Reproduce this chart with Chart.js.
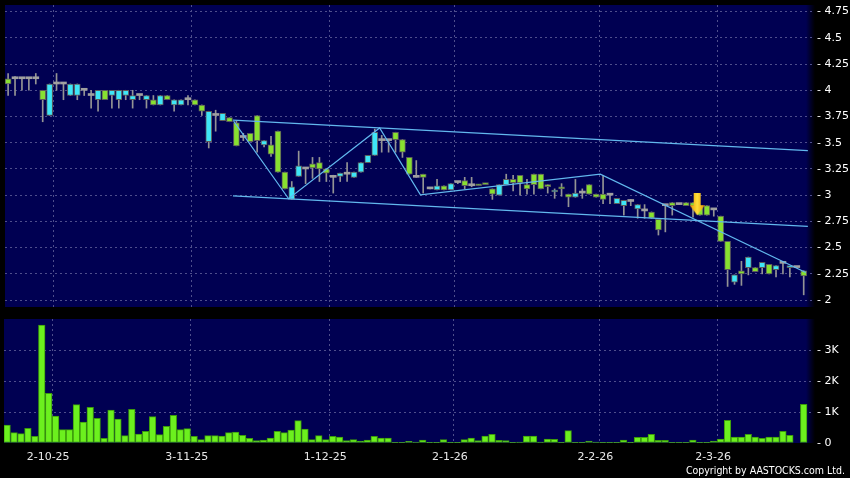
<!DOCTYPE html>
<html>
<head>
<meta charset="utf-8">
<script src="https://cdn.jsdelivr.net/npm/chart.js@4/dist/chart.umd.min.js"></script>
<style>
    body { margin: 0; background: #000; width: 850px; height: 478px; overflow: hidden; position: relative; font-family: "DejaVu Sans", sans-serif; }
    #priceBox { position: absolute; left: 0; top: 0; width: 850px; height: 312px; }
    #volBox { position: absolute; left: 0; top: 312px; width: 850px; height: 166px; }
    #copy { position: absolute; right: 5px; top: 464px; color: #fff; font-size: 10.5px; font-family: "DejaVu Sans Condensed", "DejaVu Sans", sans-serif; }
</style>
</head>
<body>
<div id="priceBox"><canvas id="priceChart" width="850" height="312"></canvas></div>
<div id="volBox"><canvas id="volChart" width="850" height="166"></canvas></div>
<div id="copy">Copyright by AASTOCKS.com Ltd.</div>
<script>
// daily candles (index 0 = first session shown)
const open = [
    4.11, 4.11, 4.11, 4.11, 4.11, 4.00, 3.76, 4.06, 4.06, 3.95,
    3.95, 4.00, 3.95, 3.91, 4.00, 3.95, 3.91, 3.95, 3.91, 3.95,
    3.91, 3.91, 3.86, 3.95, 3.86, 3.86, 3.91, 3.91, 3.86, 3.51,
    3.76, 3.71, 3.74, 3.69, 3.55, 3.59, 3.76, 3.48, 3.48, 3.61,
    3.22, 2.96, 3.18, 3.25, 3.30, 3.31, 3.25, 3.17, 3.18, 3.20,
    3.17, 3.22, 3.31, 3.38, 3.52, 3.52, 3.60, 3.53, 3.36, 3.17,
    3.20, 3.06, 3.05, 3.09, 3.05, 3.12, 3.14, 3.09, 3.10, 3.11,
    3.06, 3.00, 3.10, 3.15, 3.19, 3.10, 3.20, 3.20, 3.10, 3.03,
    3.08, 3.01, 2.98, 3.02, 3.10, 3.01, 3.01, 3.00, 2.92, 2.90,
    2.94, 2.87, 2.85, 2.84, 2.77, 2.90, 2.93, 2.91, 2.93, 2.93,
    2.90, 2.90, 2.86, 2.80, 2.56, 2.17, 2.28, 2.31, 2.31, 2.31,
    2.34, 2.29, 2.35, 2.31, 2.31, 2.28
];
const high = [
    4.16, 4.13, 4.12, 4.12, 4.16, 4.00, 4.06, 4.16, 4.06, 4.06,
    4.06, 4.00, 4.00, 4.00, 4.00, 4.00, 4.00, 4.00, 4.00, 3.95,
    3.95, 3.95, 3.95, 3.95, 3.91, 3.91, 3.95, 3.91, 3.86, 3.80,
    3.81, 3.78, 3.74, 3.71, 3.59, 3.59, 3.76, 3.52, 3.56, 3.61,
    3.22, 3.13, 3.42, 3.25, 3.36, 3.36, 3.25, 3.19, 3.21, 3.31,
    3.22, 3.31, 3.38, 3.63, 3.57, 3.52, 3.60, 3.53, 3.36, 3.33,
    3.20, 3.06, 3.15, 3.09, 3.11, 3.13, 3.17, 3.17, 3.10, 3.11,
    3.06, 3.10, 3.20, 3.19, 3.19, 3.15, 3.20, 3.20, 3.10, 3.06,
    3.11, 3.01, 3.15, 3.06, 3.10, 3.01, 3.19, 3.00, 2.97, 2.95,
    2.96, 2.91, 2.91, 2.84, 2.77, 2.90, 2.93, 2.91, 2.93, 2.93,
    2.90, 2.90, 2.86, 2.80, 2.56, 2.24, 2.37, 2.41, 2.31, 2.36,
    2.34, 2.33, 2.37, 2.32, 2.31, 2.28
];
const low = [
    3.95, 3.95, 4.00, 4.00, 4.06, 3.70, 3.76, 4.00, 3.91, 3.95,
    3.91, 3.95, 3.83, 3.80, 3.91, 3.83, 3.83, 3.91, 3.83, 3.91,
    3.83, 3.86, 3.86, 3.91, 3.80, 3.86, 3.86, 3.86, 3.76, 3.45,
    3.61, 3.71, 3.70, 3.47, 3.52, 3.51, 3.41, 3.46, 3.37, 3.22,
    3.06, 2.96, 3.18, 3.11, 3.16, 3.13, 3.13, 3.02, 3.13, 3.13,
    3.17, 3.22, 3.31, 3.38, 3.41, 3.41, 3.41, 3.36, 3.20, 3.17,
    3.02, 3.06, 3.05, 3.05, 3.05, 3.11, 3.06, 3.08, 3.09, 3.10,
    2.96, 3.00, 3.10, 3.04, 3.00, 3.01, 3.01, 3.06, 3.02, 2.97,
    2.99, 2.89, 2.98, 2.97, 3.01, 2.98, 2.92, 2.92, 2.92, 2.81,
    2.90, 2.78, 2.78, 2.78, 2.62, 2.65, 2.81, 2.91, 2.90, 2.79,
    2.81, 2.81, 2.80, 2.56, 2.13, 2.15, 2.14, 2.24, 2.27, 2.25,
    2.25, 2.22, 2.25, 2.22, 2.31, 2.05
];
const close = [
    4.06, 4.11, 4.11, 4.11, 4.11, 3.91, 4.06, 4.06, 4.06, 4.06,
    4.06, 4.00, 3.95, 4.00, 3.91, 4.00, 4.00, 4.00, 3.95, 3.95,
    3.95, 3.86, 3.95, 3.91, 3.91, 3.91, 3.91, 3.86, 3.80, 3.80,
    3.76, 3.78, 3.70, 3.47, 3.55, 3.51, 3.52, 3.52, 3.39, 3.22,
    3.06, 3.08, 3.28, 3.25, 3.26, 3.25, 3.21, 3.17, 3.21, 3.20,
    3.22, 3.31, 3.38, 3.60, 3.52, 3.52, 3.53, 3.41, 3.20, 3.17,
    3.17, 3.06, 3.09, 3.05, 3.11, 3.12, 3.09, 3.09, 3.09, 3.10,
    3.01, 3.10, 3.15, 3.12, 3.12, 3.06, 3.10, 3.06, 3.08, 3.04,
    3.06, 2.98, 3.02, 3.02, 3.01, 2.98, 2.96, 3.00, 2.97, 2.95,
    2.94, 2.91, 2.85, 2.78, 2.67, 2.90, 2.90, 2.91, 2.90, 2.90,
    2.81, 2.81, 2.86, 2.56, 2.29, 2.24, 2.25, 2.41, 2.27, 2.36,
    2.25, 2.33, 2.35, 2.32, 2.31, 2.23
];
const volume = [
    580, 333, 301, 473, 215, 3806, 1602, 871, 430, 430,
    1237, 677, 1150, 796, 150, 1065, 774, 237, 1086, 290,
    376, 849, 269, 538, 892, 430, 462, 215, 108, 237,
    237, 226, 333, 355, 247, 150, 75, 97, 161, 376,
    333, 419, 720, 452, 108, 237, 108, 215, 194, 75,
    108, 65, 97, 215, 161, 161, 10, 20, 54, 32,
    97, 20, 10, 108, 5, 5, 108, 161, 75, 226,
    280, 86, 75, 20, 32, 226, 226, 32, 129, 118,
    20, 398, 20, 20, 65, 32, 20, 20, 20, 97,
    20, 183, 183, 280, 86, 86, 20, 5, 5, 97,
    20, 5, 65, 129, 731, 194, 194, 280, 194, 150,
    194, 194, 376, 247, 0, 1247
];

// month boundaries on the session axis and their labels
const dateTickIdx = [6.5, 26.5, 46.5, 64.5, 85.5, 102.5];
const dateTickLabels = ['2-10-25', '3-11-25', '1-12-25', '2-1-26', '2-2-26', '2-3-26'];
const priceTicks = [2, 2.25, 2.5, 2.75, 3, 3.25, 3.5, 3.75, 4, 4.25, 4.5, 4.75];
const volumeTicks = [0, 1000, 2000, 3000];

// drawn trend lines as [session index, price]
const channelUpper = [[32.5, 3.716], [115.6, 3.425]];
const channelLower = [[32.5, 2.994], [115.6, 2.703]];
const zigzag = [[32.6, 3.706], [40.55, 2.966], [53.7, 3.641], [59.6, 3.003], [85.6, 3.20], [115.3, 2.263]];
const signalArrow = [99.6, 2.914];

const UP = '#3ee6f7';
const DOWN = '#88e030';
const DOJI = '#a0a0a0';
const WICK = '#949494';
const GRID = '#4e4e8c';
const LINE = '#62b8ee';
const VOL = '#6cf01e';
const PLOT_BG = '#000052';
const X_MIN = -0.45, X_MAX = 116.2;

const plotBg = {
    id: 'plotBg',
    beforeDraw(chart) {
        const {ctx, chartArea: a} = chart;
        ctx.save();
        ctx.fillStyle = PLOT_BG;
        ctx.fillRect(a.left, a.top, a.right - a.left, a.bottom - a.top);
        // the panel fades out towards the axis on the right
        const fade = ctx.createLinearGradient(a.right - 6, 0, a.right + 3, 0);
        fade.addColorStop(0, PLOT_BG);
        fade.addColorStop(1, '#000');
        ctx.fillStyle = fade;
        ctx.fillRect(a.right - 6, a.top, 9, a.bottom - a.top);
        ctx.restore();
    }
};

function makeArrow() {
    const c = document.createElement('canvas');
    c.width = 15;
    c.height = 22;
    const g = c.getContext('2d');
    const grad = g.createLinearGradient(0, 0, 15, 0);
    grad.addColorStop(0, '#e89400');
    grad.addColorStop(0.5, '#ffe03a');
    grad.addColorStop(1, '#e89400');
    g.fillStyle = grad;
    g.beginPath();
    g.moveTo(4, 0);
    g.lineTo(11, 0);
    g.lineTo(11, 12);
    g.lineTo(15, 12);
    g.lineTo(7.5, 22);
    g.lineTo(0, 12);
    g.lineTo(4, 12);
    g.closePath();
    g.fill();
    return c;
}

const idx = open.map((_, i) => i);
const bodyColor = i => close[i] > open[i] ? UP : (close[i] < open[i] ? DOWN : DOJI);
const toXY = pts => pts.map(p => ({x: p[0], y: p[1]}));

const tickFont = {family: 'DejaVu Sans', size: 11};

// keep the plot area edge-to-edge, no extra room for the first/last label
function noLabelPadding(s) {
    s.paddingTop = 0;
    s.paddingBottom = 0;
    s.paddingLeft = 0;
    s.paddingRight = 0;
}

function xScale(showLabels) {
    return {
        type: 'linear',
        min: X_MIN,
        max: X_MAX,
        offset: false,
        afterBuildTicks: s => { s.ticks = dateTickIdx.map(v => ({value: v})); },
        afterFit: s => {
            noLabelPadding(s);
            s.height = showLabels ? 35 : 0;
        },
        grid: {color: GRID, drawTicks: false, offset: false},
        border: {display: false, dash: [2, 3]},
        ticks: {
            display: showLabels,
            color: '#e8e8e8',
            font: tickFont,
            padding: 8,
            labelOffset: -4,
            maxRotation: 0,
            autoSkip: false,
            callback: v => dateTickLabels[dateTickIdx.indexOf(v)]
        }
    };
}

function yScale(min, max, ticks, label) {
    return {
        position: 'right',
        min: min,
        max: max,
        afterBuildTicks: s => { s.ticks = ticks.map(v => ({value: v})); },
        afterFit: s => {
            noLabelPadding(s);
            s.width = 38;
        },
        grid: {color: c => c.tick && c.tick.value === 0 ? 'rgba(0,0,0,0)' : GRID, drawTicks: false},
        border: {display: false, dash: [2, 3]},
        ticks: {color: '#fff', font: tickFont, padding: 5, callback: v => '- ' + label(v)}
    };
}

new Chart(document.getElementById('priceChart'), {
    type: 'bar',
    data: {
        datasets: [
            {
                type: 'line',
                data: toXY(channelUpper),
                borderColor: LINE, borderWidth: 1.2, pointRadius: 0, order: 0
            },
            {
                type: 'line',
                data: toXY(channelLower),
                borderColor: LINE, borderWidth: 1.2, pointRadius: 0, order: 0
            },
            {
                type: 'line',
                data: toXY(zigzag),
                borderColor: LINE, borderWidth: 1.2, pointRadius: 0, order: 0
            },
            {
                type: 'scatter',
                data: [{x: signalArrow[0], y: signalArrow[1]}],
                pointStyle: makeArrow(), order: -1
            },
            {
                data: idx.map(i => ({x: i, y: [open[i], close[i]]})),
                backgroundColor: idx.map(bodyColor),
                borderColor: idx.map(i => close[i] === open[i] ? DOJI : '#5c5c5c'),
                borderWidth: idx.map(i => close[i] === open[i] ? 0 : 1),
                borderSkipped: false,
                barThickness: 6,
                minBarLength: 2,
                grouped: false,
                order: 1
            },
            {
                data: idx.map(i => ({x: i, y: [low[i], high[i]]})),
                backgroundColor: WICK,
                borderWidth: 0,
                barThickness: 1,
                grouped: false,
                order: 2
            }
        ]
    },
    options: {
        responsive: false,
        animation: false,
        layout: {padding: {left: 4, right: 0, top: 0, bottom: 5}},
        plugins: {legend: {display: false}, tooltip: {enabled: false}},
        scales: {
            x: xScale(false),
            y: yScale(1.934, 4.813, priceTicks, v => String(v))
        }
    },
    plugins: [plotBg]
});

new Chart(document.getElementById('volChart'), {
    type: 'bar',
    data: {
        datasets: [{
            data: idx.map(i => ({x: i, y: volume[i]})),
            backgroundColor: VOL,
            borderColor: '#3c9a0c',
            borderWidth: 1,
            borderSkipped: false,
            barThickness: 6.6,
            grouped: false
        }]
    },
    options: {
        responsive: false,
        animation: false,
        layout: {padding: {left: 4, right: 0, top: 7, bottom: 0}},
        plugins: {legend: {display: false}, tooltip: {enabled: false}},
        scales: {
            x: xScale(true),
            y: yScale(0, 4000, volumeTicks, v => v ? v / 1000 + 'K' : '0')
        }
    },
    plugins: [plotBg]
});
</script>
</body>
</html>
